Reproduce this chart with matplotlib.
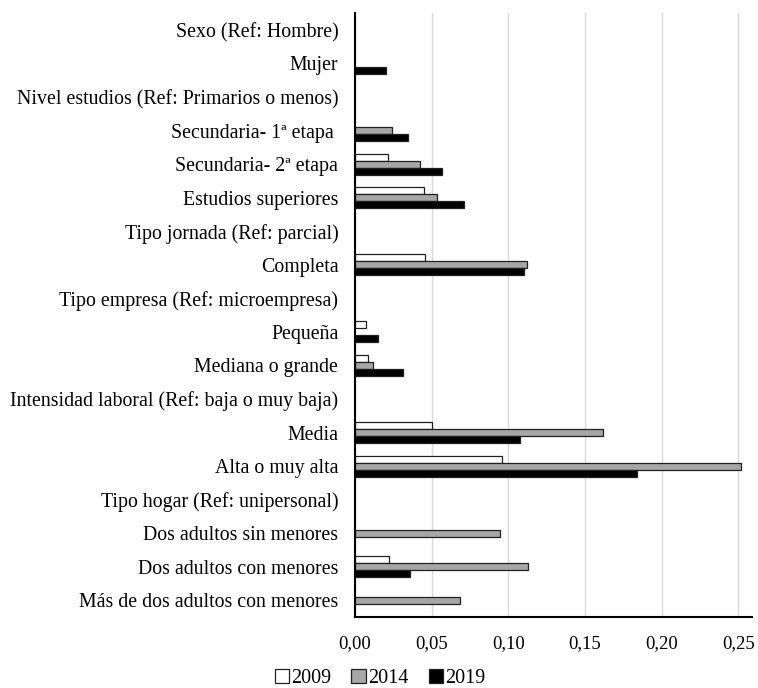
import numpy as np
import matplotlib.pyplot as plt
from matplotlib.ticker import FuncFormatter

categorias = [
    "Sexo (Ref: Hombre)",
    "Mujer",
    "Nivel estudios (Ref: Primarios o menos)",
    "Secundaria- 1ª etapa ",
    "Secundaria- 2ª etapa",
    "Estudios superiores",
    "Tipo jornada (Ref: parcial)",
    "Completa",
    "Tipo empresa (Ref: microempresa)",
    "Pequeña",
    "Mediana o grande",
    "Intensidad laboral (Ref: baja o muy baja)",
    "Media",
    "Alta o muy alta",
    "Tipo hogar (Ref: unipersonal)",
    "Dos adultos sin menores",
    "Dos adultos con menores",
    "Más de dos adultos con menores",
]

v2009 = [0, 0, 0, 0, 0.0218, 0.0448, 0, 0.046, 0, 0.0072, 0.0083, 0, 0.0505, 0.0962, 0, 0, 0.022, 0]
v2014 = [0, 0, 0, 0.024, 0.0424, 0.0538, 0, 0.112, 0, 0, 0.0118, 0, 0.162, 0.252, 0, 0.0949, 0.113, 0.0688]
v2019 = [0, 0.020, 0, 0.0346, 0.0566, 0.0712, 0, 0.110, 0, 0.0153, 0.0311, 0, 0.1077, 0.1839, 0, 0, 0.0357, 0]

plt.rcParams['font.family'] = ['Liberation Serif', 'DejaVu Serif']

fig = plt.figure(figsize=(7.58, 6.88), dpi=100)
ax = fig.add_axes([0.4683, 0.103, 0.5237, 0.878])

y = np.arange(len(categorias))
h = 0.21
series = [(v2009, "white", "2009"), (v2014, "#a6a6a6", "2014"), (v2019, "black", "2019")]
for i, (vals, col, lab) in enumerate(series):
    vals = np.array(vals)
    mask = vals > 0
    ax.barh(y[mask] + (i - 1) * h, vals[mask], height=h, color=col,
            edgecolor="#202020", linewidth=0.9, label=lab)

ax.set_yticks(y)
ax.set_yticklabels(categorias, fontsize=14.3)
ax.set_ylim(len(categorias) - 0.5, -0.5)
ax.set_xlim(0, 0.259)
ax.set_xticks([0, 0.05, 0.10, 0.15, 0.20, 0.25])
ax.xaxis.set_major_formatter(FuncFormatter(lambda v, p: f"{v:.2f}".replace(".", ",")))
ax.tick_params(axis="x", labelsize=13.5, length=0, pad=13)
ax.tick_params(axis="y", length=0, pad=12)

ax.grid(axis="x", color="#d9d9d9", linewidth=1)
ax.set_axisbelow(True)
for s in ["top", "right"]:
    ax.spines[s].set_visible(False)
ax.spines["left"].set_linewidth(1.5)
ax.spines["bottom"].set_linewidth(1.5)

ax.legend(loc="center", bbox_to_anchor=(0.063, -0.102), ncol=3, frameon=False,
          fontsize=14.5, handlelength=0.7, handleheight=0.7, handletextpad=0.12,
          columnspacing=1.0, borderaxespad=0, borderpad=0)

fig.savefig("out.png", dpi=100)
